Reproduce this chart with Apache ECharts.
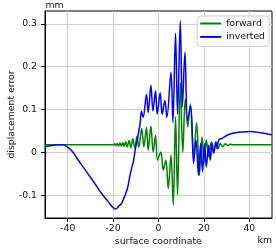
<!DOCTYPE html>
<html>
<head>
<meta charset="utf-8">
<script src="https://cdn.jsdelivr.net/npm/echarts@6/dist/echarts.min.js"></script>
<style>html,body{margin:0;padding:0;background:#fff}#c{width:276px;height:248px}</style>
</head>
<body>
<div id="c"></div>
<script>
const xTicks = [-40, -20, 0, 20, 40];
const yTicks = [-0.1, 0, 0.1, 0.2, 0.3];
const yTickLabels = ['-0.1', '0', '0.1', '0.2', '0.3'];

const forwardKm = [-50, -20, -19.4, -18.8, -18.2, -17.6, -17.0, -16.4, -15.8, -15.2, -14.5, -13.8, -13.0, -12.2, -11.3, -10.4, -9.5, -8.7, -7.4, -6.45, -5.3, -4.55, -3.35, -2.35, -1.3, -0.45, 1.05, 2.1, 3.25, 4.3, 5.5, 6.5, 7.5, 8.4, 9.6, 10.7, 11.8, 12.9, 14.0, 15.5, 16.8, 18.0, 19.2, 20.0, 21.1, 22.1, 23.3, 24.3, 25.3, 26.2, 27.2, 28.3, 29.4, 30.6, 31.7, 33, 50];
const forwardMm = [0.018, 0.018, 0.020, 0.016, 0.021, 0.015, 0.022, 0.015, 0.023, 0.014, 0.025, 0.013, 0.028, 0.011, 0.032, 0.010, 0.038, 0.012, 0.056, 0.013, 0.058, 0.005, 0.061, 0.001, 0.040, -0.018, 0.001, -0.041, -0.018, -0.084, -0.006, -0.123, 0.083, -0.100, 0.162, 0.000, 0.125, 0.060, 0.113, -0.006, 0.070, -0.053, 0.036, -0.026, 0.029, -0.010, 0.025, 0.001, 0.021, 0.008, 0.021, 0.013, 0.020, 0.016, 0.019, 0.018, 0.018];

const invertedKm = [-50, -47, -44, -42, -40, -38, -36, -34, -32, -30, -28, -26, -24, -22, -20.5, -19, -18, -17.5, -16.5, -15.5, -14.5, -13.5, -12.8, -12, -11, -10.3, -9.5, -9, -8.1, -7.5, -6.75, -5.3, -4.55, -3.35, -2.45, -1.3, -0.57, 0.75, 1.6, 2.8, 3.7, 5.5, 6.35, 7.5, 8.4, 9.6, 10.5, 11.65, 12.8, 14.2, 15.45, 16.5, 17.65, 18.55, 19.4, 20.3, 21.05, 22.1, 22.8, 23.6, 24.3, 25.3, 25.8, 26.5, 28, 30.2, 32.4, 35.3, 38.3, 40, 45, 50];
const invertedMm = [0.013, 0.016, 0.018, 0.018, 0.012, 0.003, -0.013, -0.028, -0.043, -0.058, -0.073, -0.089, -0.103, -0.116, -0.126, -0.132, -0.129, -0.125, -0.121, -0.110, -0.097, -0.080, -0.060, -0.040, -0.020, 0.005, 0.025, 0.040, 0.068, 0.096, 0.082, 0.136, 0.093, 0.157, 0.097, 0.144, 0.089, 0.139, 0.089, 0.121, 0.082, 0.187, 0.070, 0.278, 0.089, 0.307, 0.106, 0.234, 0.075, 0.108, -0.026, 0.029, -0.053, 0.021, -0.045, 0.021, -0.034, 0.017, -0.018, 0.021, -0.002, 0.025, 0.009, 0.029, 0.033, 0.040, 0.044, 0.047, 0.048, 0.049, 0.046, 0.041];

const zip = (a, b) => a.map((v, i) => [v, b[i]]);
const FONT = 'DejaVu Sans';
const FS = 9.3;

const chart = echarts.init(document.getElementById('c'), null, {renderer: 'canvas'});
chart.setOption({
  animation: false,
  backgroundColor: '#fff',
  grid: {left: 45, right: 4, top: 11, bottom: 30, show: true, borderColor: '#000', borderWidth: 1, backgroundColor: 'transparent'},
  xAxis: {
    type: 'value', min: -50, max: 50,
    axisLine: {show: true, onZero: false, lineStyle: {color: '#000', width: 1}},
    axisTick: {show: true, length: 4, lineStyle: {color: '#000'}, customValues: xTicks},
    axisLabel: {customValues: xTicks, color: '#111', fontFamily: FONT, fontSize: FS, margin: 6},
    splitLine: {show: true, lineStyle: {color: '#d0d0d0', width: 1}}
  },
  yAxis: {
    type: 'value', min: -0.153, max: 0.33,
    axisLine: {show: true, onZero: false, lineStyle: {color: '#000', width: 1}},
    axisTick: {show: true, length: 4, lineStyle: {color: '#000'}, customValues: yTicks},
    axisLabel: {customValues: yTicks, color: '#111', fontFamily: FONT, fontSize: FS, margin: 8,
      formatter: v => { const i = yTicks.findIndex(t => Math.abs(t - v) < 1e-9); return i >= 0 ? yTickLabels[i] : ''; }},
    splitLine: {show: true, lineStyle: {color: '#d0d0d0', width: 1}}
  },
  legend: {
    orient: 'vertical', right: 7, top: 16,
    data: [{name: 'forward', icon: 'rect'}, {name: 'inverted', icon: 'rect'}],
    itemWidth: 21, itemHeight: 2, itemGap: 2.4,
    padding: [2, 4, 4, 3],
    borderColor: '#cccccc', borderWidth: 1, borderRadius: 3,
    backgroundColor: 'rgba(255,255,255,0.85)',
    textStyle: {fontFamily: FONT, fontSize: FS, color: '#111', lineHeight: 11}
  },
  series: [
    {name: 'forward', type: 'line', data: zip(forwardKm, forwardMm), showSymbol: false, symbol: 'none', smooth: 0.35,
      lineStyle: {color: '#008000', width: 1.5}, itemStyle: {color: '#008000'}, z: 2},
    {name: 'inverted', type: 'line', data: zip(invertedKm, invertedMm), showSymbol: false, symbol: 'none', smooth: 0.35,
      lineStyle: {color: '#0000ff', width: 1.5}, itemStyle: {color: '#0000ff'}, z: 3}
  ],
  graphic: [
    {type: 'text', x: 45.5, y: 5.8, style: {text: 'mm', fontFamily: FONT, fontSize: FS, fill: '#111', align: 'left', verticalAlign: 'middle'}},
    {type: 'text', x: 272, y: 241, style: {text: 'km', fontFamily: FONT, fontSize: FS, fill: '#111', align: 'right', verticalAlign: 'middle'}},
    {type: 'text', x: 158.3, y: 241.5, style: {text: 'surface coordinate', fontFamily: FONT, fontSize: FS, fill: '#111', align: 'center', verticalAlign: 'middle'}},
    {type: 'text', x: 12, y: 114.5, rotation: Math.PI / 2, style: {text: 'displacement error', fontFamily: FONT, fontSize: FS, fill: '#111', align: 'center', verticalAlign: 'middle'}}
  ]
});
</script>
</body>
</html>
